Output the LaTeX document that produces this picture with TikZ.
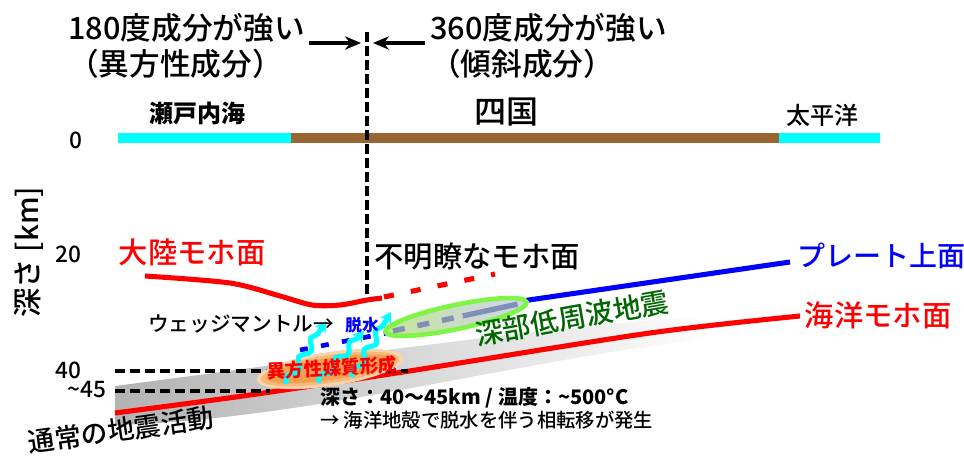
\documentclass[tikz,border=0pt]{standalone}
\usepackage{fontspec}
\setmainfont{Noto Sans CJK JP}
\newfontfamily\jpmed{Noto Sans CJK JP Medium}
\usepackage{tikz}
\usetikzlibrary{positioning, arrows.meta, decorations.pathmorphing, calc}

\definecolor{seacyan}{RGB}{0,255,255}
\definecolor{landbrown}{RGB}{153,102,51}
\definecolor{mohored}{RGB}{255,0,0}
\definecolor{plateblue}{RGB}{0,0,255}
\definecolor{lfegreen}{RGB}{0,102,0}
\definecolor{lferim}{RGB}{128,245,70}
\definecolor{lfeleft}{RGB}{196,230,150}
\definecolor{lferight}{RGB}{208,212,245}
\definecolor{lfedash}{RGB}{128,144,182}
\definecolor{anisocore}{RGB}{244,160,80}
\definecolor{anisomid}{RGB}{247,185,122}
\definecolor{anisorim}{RGB}{251,212,172}

\newcommand{\fs}[1]{\fontsize{#1}{#1}\selectfont}

\begin{document}
\begin{tikzpicture}[
    x=0.75pt, y=-0.75pt,
    >=Stealth,
    ttl/.style={
        inner sep=0pt,
        align=left,
        font=\jpmed\fontsize{23pt}{27pt}\selectfont,
    },
    lbl/.style={
        inner sep=0pt,
        font=\jpmed\fs{22pt},
    },
    tick/.style={
        inner sep=0pt,
        font=\jpmed\fs{17pt},
    },
    surface/.style={
        line width=8pt,
    },
    moho/.style={
        mohored,
        line width=3.8pt,
    },
    depthline/.style={
        black,
        line width=2.8pt,
        dash pattern=on 7.5pt off 3.8pt,
    },
    toparrow/.style={
        line width=2.8pt,
        -{Stealth[length=12pt, width=10pt]},
    },
    dehydarrow/.style={
        seacyan,
        line width=3.8pt,
        -{Stealth[length=8pt, width=9.5pt]},
        decorate,
        decoration={snake, segment length=17pt, amplitude=2.8pt, post length=7pt},
    },
]
\useasboundingbox (0,0) rectangle (964,461);

% --- Seismic band along the slab (fades to the right) ---
\shade[left color=black!30, middle color=black!7, right color=white]
    (115,386) .. controls (300,362) and (520,330) .. (680,318)
    .. controls (720,316) and (720,338) .. (680,342)
    .. controls (500,365) and (300,420) .. (115,425) -- cycle;

% --- Surface: sea / land / sea ---
\draw[surface, seacyan] (118,138) -- (291,138);
\draw[surface, landbrown] (291,138) -- (779,138);
\draw[surface, seacyan] (779,138) -- (880,138);

\node[font=\bfseries\fs{18pt}] (setouchi) at (197,113) {瀬戸内海};
\node[font=\jpmed\fs{24pt}] (shikoku) at (506,112) {四国};
\node[font=\jpmed\fs{18pt}] (pacific) at (822,115) {太平洋};

% --- Depth axis ---
\node[rotate=90, inner sep=0pt, font=\jpmed\fs{22pt}] (zlbl) at (29,252) {深さ [km]};
\node[tick] (z0) at (76,140) {0};
\node[tick] (z20) at (68,254) {20};
\node[tick] (z40) at (68,370) {40};
\node[tick] (z45) at (87,390) {\textasciitilde45};

% --- Boundary between the two regimes ---
\coordinate (divtop) at (367,32);
\coordinate (divbot) at (367,300);
\coordinate (divarrow) at (367,43);
\draw[line width=2.8pt, dash pattern=on 7.5pt off 3pt] (divtop) -- (divbot);

\node[ttl, anchor=west] (ttlL) at (68,46) {180度成分が強い\\（異方性成分）};
\node[ttl, anchor=west] (ttlR) at (430,46) {360度成分が強い\\（傾斜成分）};

\draw[toparrow, shorten >=4.5pt] ([xshift=3pt]ttlL.east |- divarrow) -- (divarrow);
\draw[toparrow, shorten >=4.5pt] ([xshift=-4pt]ttlR.west |- divarrow) -- (divarrow);

% --- Continental Moho (solid, then unclear) ---
\draw[moho] plot[smooth] coordinates {(145,276) (230,283) (280,296) (312,305) (340,305) (367,300) (382,298)};
\draw[moho, dash pattern=on 7.5pt off 13pt] (384,297) -- (495,274);

\node[lbl, text=mohored] (contlbl) at (192,252) {大陸モホ面};
\node[lbl] (unclearlbl) at (477,256) {不明瞭なモホ面};

% --- Plate top ---
\draw[plateblue, line width=3.8pt] (515,302) -- (790,262);
\draw[plateblue, line width=3.5pt, dash pattern=on 6pt off 10pt] (300,350) -- (392,332);
\node[lbl, text=plateblue, font=\jpmed\fs{21pt}] (platelbl) at (881,256) {プレート上面};

% --- Deep low-frequency tremor zone ---
\shadedraw[left color=lfeleft, right color=lferight, draw=lferim, line width=3.5pt,
    rotate around={11.9:(456,317)}] (456,317) ellipse [x radius=72, y radius=12];
\draw[lfedash, line width=4pt,
    dash pattern=on 9pt off 9.75pt on 9pt off 9.75pt on 9pt off 7pt on 42pt]
    (393,331) -- (518,304);
\node[font=\jpmed\fs{21pt}, text=lfegreen, rotate=10, inner sep=0pt] (lfelbl) at (572,318) {深部低周波地震};

% --- Oceanic Moho ---
\draw[moho] plot[smooth] coordinates {(115,413) (250,395) (403,372) (650,333) (800,316)};
\node[lbl, text=mohored] (oceanlbl) at (878,315) {海洋モホ面};

% --- 40 / 45 km levels ---
\draw[depthline] (115,371) -- (408,371);
\draw[depthline] (115,391) -- (270,391);

% --- Anisotropic layer (soft orange glow) ---
\foreach \rx/\ry/\c in {74/17/anisorim, 70/14/anisomid, 64/11/anisocore} {
    \fill[\c, rotate around={8.6:(330,369)}] (330,369) ellipse [x radius=\rx, y radius=\ry];
}

% --- Dehydration arrows ---
\draw[dehydarrow] (286,384) -- (326,321);
\draw[dehydarrow] (318,383) -- (364,331);
\draw[dehydarrow] (352,377) -- (391,312);

\node[font=\bfseries\fs{14pt}, text=mohored, rotate=3, inner sep=0pt] (anisolbl) at (332,368) {異方性媒質形成};
\node[font=\jpmed\fs{15.5pt}, inner sep=0pt] (wedge) at (241,324) {ウェッジマントル→};
\node[font=\bfseries\fs{12.5pt}, text=plateblue, inner sep=0pt] (dehyd) at (362,325) {脱水};

% --- Notes ---
\node[font=\jpmed\fs{20pt}, rotate=8, inner sep=0pt] (normallbl) at (121,430) {通常の地震活動};
\node[font=\bfseries\fs{15pt}, anchor=west, inner sep=0pt] (cond) at (320,398) {深さ：40～45km / 温度：\textasciitilde500°C};
\node[font=\jpmed\fs{14.5pt}, anchor=west, inner sep=0pt] (reaction) at (320,420) {→ 海洋地殻で脱水を伴う相転移が発生};

\end{tikzpicture}
\end{document}
